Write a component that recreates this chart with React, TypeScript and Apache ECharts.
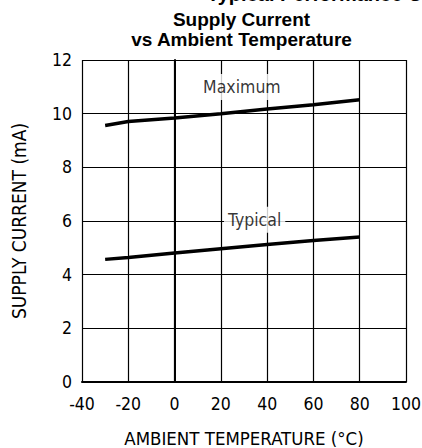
import React, { useEffect, useRef } from "react";
import * as echarts from "echarts";

const temperatures = [-30, -20, 0, 20, 40, 60, 80];
const maximumCurrent = [9.56, 9.71, 9.84, 10.0, 10.17, 10.33, 10.52];
const typicalCurrent = [4.57, 4.64, 4.81, 4.97, 5.12, 5.27, 5.4];
const annotationNames = ["Maximum", "Typical"];
const annotationX = [29.1, 34.6];
const annotationY = [10.99, 6.05];

const LABEL_FONT = "'DejaVu Sans Condensed', 'Liberation Sans Narrow', 'DejaVu Sans', sans-serif";

export default function App() {
  const ref = useRef<HTMLDivElement>(null);
  useEffect(() => {
    if (!ref.current) return;
    const chart = echarts.init(ref.current, undefined, { renderer: "svg" });
    const lineStyleGrid = { color: "#000", width: 1.2 };
    chart.setOption({
      animation: false,
      backgroundColor: "#fff",
      grid: { left: 82, top: 60, width: 324, height: 322, containLabel: false, outerBoundsMode: "none" },
      graphic: [
        {
          type: "text",
          x: 207,
          y: 4,
          style: {
            text: "Typical Performance Characteristics",
            font: "bold 20px 'Liberation Sans', Arial, sans-serif",
            fill: "#000",
            textAlign: "left",
            textVerticalAlign: "bottom",
          },
        },
        {
          type: "text",
          x: 241.5,
          y: 10,
          style: {
            text: "Supply Current\nvs Ambient Temperature",
            font: "bold 19px 'Liberation Sans', Arial, sans-serif",
            lineHeight: 19.5,
            fill: "#000",
            textAlign: "center",
            textVerticalAlign: "top",
          },
        },
      ],
      xAxis: {
        type: "value",
        min: -40,
        max: 100,
        interval: 20,
        name: "AMBIENT TEMPERATURE (°C)",
        nameLocation: "middle",
        nameGap: 56,
        nameTextStyle: { fontFamily: LABEL_FONT, fontSize: 18.5, lineHeight: 16, color: "#000", verticalAlign: "middle" },
        axisLine: { show: true, onZero: false, lineStyle: { color: "#000", width: 2 } },
        axisTick: { show: false },
        axisLabel: { margin: 13, fontFamily: LABEL_FONT, fontSize: 17.5, color: "#000" },
        splitLine: { show: true, lineStyle: lineStyleGrid },
      },
      yAxis: {
        type: "value",
        min: 0,
        max: 12,
        interval: 2,
        name: "SUPPLY CURRENT (mA)",
        nameLocation: "middle",
        nameGap: 63,
        nameTextStyle: { fontFamily: LABEL_FONT, fontSize: 19, color: "#000", verticalAlign: "middle" },
        axisLine: { show: true, lineStyle: { color: "#000", width: 2 } },
        axisTick: { show: false },
        axisLabel: { margin: 10, fontFamily: LABEL_FONT, fontSize: 17.5, color: "#000" },
        splitLine: { show: true, lineStyle: lineStyleGrid },
      },
      series: [
        {
          type: "line",
          data: temperatures.map((t, i) => [t, maximumCurrent[i]]),
          showSymbol: false,
          symbol: "none",
          lineStyle: { color: "#000", width: 3.5 },
          z: 5,
        },
        {
          type: "line",
          data: temperatures.map((t, i) => [t, typicalCurrent[i]]),
          showSymbol: false,
          symbol: "none",
          lineStyle: { color: "#000", width: 3.5 },
          z: 5,
        },
        {
          type: "scatter",
          symbolSize: 0,
          data: annotationNames.map((n, i) => ({ name: n, value: [annotationX[i], annotationY[i]] })),
          label: {
            show: true,
            position: "inside",
            formatter: (p: any) => p.name,
            fontFamily: LABEL_FONT,
            fontSize: 17.5,
            color: "#000",
            backgroundColor: "#fff",
            padding: [4, 4],
          },
          z: 4,
        },
      ],
    });
    return () => chart.dispose();
  }, []);
  return <div ref={ref} style={{ position: "fixed", left: 0, top: 0, width: 422, height: 448 }} />;
}
